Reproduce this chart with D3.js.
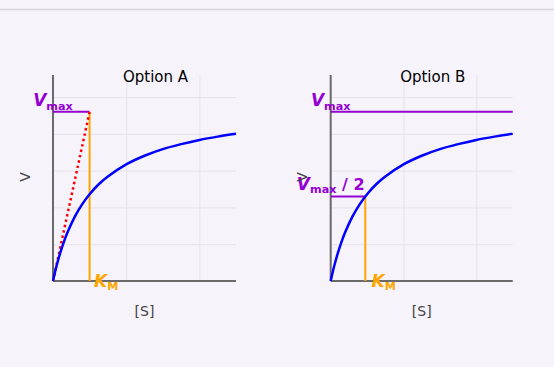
<!DOCTYPE html>
<html>
<head>
<meta charset="utf-8">
<script src="https://cdn.jsdelivr.net/npm/d3@7"></script>
<style>
  html, body { margin: 0; padding: 0; background: #f6f3fa; }
  svg { display: block; }
  text { font-family: "DejaVu Sans", Verdana, sans-serif; }
</style>
</head>
<body>
<svg id="chart" width="554" height="367"></svg>
<script>
// ---- data ----
const panelTitles = ["Option A", "Option B"];
const xAxisTitle = "[S]";
const yAxisTitle = "V";
const substrate = [0, 1, 2, 3, 4, 6, 8, 10, 12.5, 15, 20, 25, 30, 35, 40, 45, 50];
const velocity  = [0, 0.084, 0.154, 0.214, 0.266, 0.351, 0.418, 0.472, 0.526, 0.568, 0.634, 0.681, 0.717, 0.744, 0.767, 0.785, 0.80];
const vmax = 0.92;
const kmA = 10;
const kmB = 9.5;
const kmLabelX = 11.2;
const xGridTicks = [20, 40];
const yGridTicks = [0.2, 0.4, 0.6, 0.8, 1.0];
const xDomain = [0, 50];
const yDomain = [0, 1.12];

// ---- layout ----
const W = 554, H = 367;
const plotTop = 75, plotBottom = 281;
const panels = [
  { left: 53, right: 236, title: panelTitles[0], km: kmA, mode: "A" },
  { left: 330.7, right: 512.7, title: panelTitles[1], km: kmB, mode: "B" }
];
const colBlue = "#0000ff", colPurple = "#9400d3", colOrange = "#ffa500", colRed = "#ff0000";
const axisCol = "#6a6a6a", gridCol = "#e6e2ec", textCol = "#444";

const svg = d3.select("#chart");
svg.append("rect").attr("width", W).attr("height", H).attr("fill", "#f6f3fa");
svg.append("line").attr("x1", 0).attr("x2", W).attr("y1", 9.5).attr("y2", 9.5)
  .attr("stroke", "#d9d5df").attr("stroke-width", 1.5);

const y = d3.scaleLinear().domain(yDomain).range([plotBottom, plotTop]);

function label(g, x, yPos, main, sub, rest, color, anchor) {
  const t = g.append("text").attr("x", x).attr("y", yPos)
    .attr("text-anchor", anchor).attr("fill", color)
    .attr("font-weight", "bold").attr("font-size", 16);
  t.append("tspan").attr("font-style", "italic").attr("font-size", 17).text(main);
  t.append("tspan").attr("font-size", 11.2).attr("dy", 3.4).text(sub);
  if (rest) t.append("tspan").attr("dy", -3.4).text(rest);
  return t;
}

panels.forEach(p => {
  const x = d3.scaleLinear().domain(xDomain).range([p.left, p.right]);
  const g = svg.append("g");

  const gx = g.append("g").attr("transform", `translate(0,${plotBottom})`)
    .call(d3.axisBottom(x).tickValues(xGridTicks).tickSize(-(plotBottom - plotTop)).tickFormat(""));
  const gy = g.append("g").attr("transform", `translate(${p.left},0)`)
    .call(d3.axisLeft(y).tickValues(yGridTicks).tickSize(-(p.right - p.left)).tickFormat(""));
  [gx, gy].forEach(a => {
    a.select(".domain").remove();
    a.selectAll(".tick line").attr("stroke", gridCol).attr("stroke-width", 1);
  });

  g.append("line").attr("x1", x(0)).attr("x2", x(0)).attr("y1", y(yDomain[1])).attr("y2", y(0))
    .attr("stroke", axisCol).attr("stroke-width", 2);
  g.append("line").attr("x1", x(0)).attr("x2", x(xDomain[1])).attr("y1", y(0)).attr("y2", y(0))
    .attr("stroke", axisCol).attr("stroke-width", 2);

  if (p.mode === "A") {
    g.append("line").attr("x1", x(0)).attr("x2", x(p.km)).attr("y1", y(vmax)).attr("y2", y(vmax))
      .attr("stroke", colPurple).attr("stroke-width", 2);
    g.append("line").attr("x1", x(p.km)).attr("x2", x(p.km)).attr("y1", y(0)).attr("y2", y(vmax))
      .attr("stroke", colOrange).attr("stroke-width", 2);
    g.append("line").attr("x1", x(0)).attr("y1", y(0)).attr("x2", x(p.km)).attr("y2", y(vmax))
      .attr("stroke", colRed).attr("stroke-width", 2.5).attr("stroke-dasharray", "2.5,3");
  } else {
    g.append("line").attr("x1", x(0)).attr("x2", x(xDomain[1])).attr("y1", y(vmax)).attr("y2", y(vmax))
      .attr("stroke", colPurple).attr("stroke-width", 2);
    g.append("line").attr("x1", x(0)).attr("x2", x(p.km)).attr("y1", y(vmax / 2)).attr("y2", y(vmax / 2))
      .attr("stroke", colPurple).attr("stroke-width", 2);
    g.append("line").attr("x1", x(p.km)).attr("x2", x(p.km)).attr("y1", y(0)).attr("y2", y(vmax / 2))
      .attr("stroke", colOrange).attr("stroke-width", 2);
  }

  const pts = substrate.map((s, i) => [s, velocity[i]]);
  g.append("path").datum(pts)
    .attr("d", d3.line().x(d => x(d[0])).y(d => y(d[1])).curve(d3.curveCatmullRom))
    .attr("fill", "none").attr("stroke", colBlue).attr("stroke-width", 2.5);

  label(g, x(0), y(vmax) - 5.5, "V", "max", null, colPurple, "middle");
  if (p.mode === "B") label(g, x(0), y(vmax / 2) - 6.5, "V", "max", " / 2", colPurple, "middle");
  label(g, x(kmLabelX), y(0) + 5.5, "K", "M", null, colOrange, "start");

  g.append("text").attr("x", (p.left + p.right) / 2 + 11).attr("y", 82)
    .attr("text-anchor", "middle").attr("font-size", 15).attr("fill", "#000").text(p.title);
  g.append("text").attr("x", (p.left + p.right) / 2).attr("y", 316)
    .attr("text-anchor", "middle").attr("font-size", 14).attr("fill", textCol).text(xAxisTitle);
  g.append("text").attr("transform", `translate(${p.left - 23.5},177) rotate(-90)`)
    .attr("text-anchor", "middle").attr("font-size", 14).attr("fill", textCol).text(yAxisTitle);
});
</script>
</body>
</html>
